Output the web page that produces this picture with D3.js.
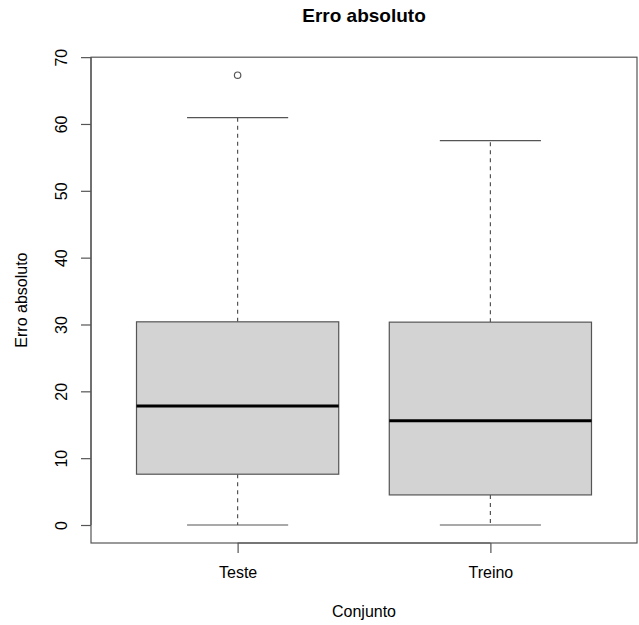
<!DOCTYPE html>
<html><head><meta charset="utf-8">
<script src="https://cdn.jsdelivr.net/npm/d3@7"></script>
<style>body{margin:0;background:#fff}svg{display:block}text{font-family:"Liberation Sans",Arial,sans-serif;fill:#000}</style>
</head><body>
<script>
const categories = ["Teste", "Treino"];
const lowerWhisker = [0, 0];
const q1 = [7.6, 4.5];
const median = [17.8, 15.6];
const q3 = [30.4, 30.35];
const upperWhisker = [60.95, 57.5];
const outliers = [[67.3], []];
const yTicks = [0, 10, 20, 30, 40, 50, 60, 70];
const title = "Erro absoluto";
const xTitle = "Conjunto";
const yTitle = "Erro absoluto";

const W = 639, H = 625;
const L = 91, R = 637, T = 57.2, B = 543;
const svg = d3.select("body").append("svg").attr("width", W).attr("height", H);

const x = d3.scaleLinear().domain([0.42, 2.58]).range([L, R]);
const y = d3.scaleLinear().domain([-2.692, 69.99]).range([B, T]);

// boxes
categories.forEach((c, i) => {
  const cx = x(i + 1);
  const g = svg.append("g");
  const dash = "4,4";
  // whiskers
  g.append("line").attr("x1", cx).attr("x2", cx).attr("y1", y(q3[i])).attr("y2", y(upperWhisker[i]))
    .attr("stroke", "#555").attr("stroke-width", 1.2).attr("stroke-dasharray", dash);
  g.append("line").attr("x1", cx).attr("x2", cx).attr("y1", y(q1[i])).attr("y2", y(lowerWhisker[i]))
    .attr("stroke", "#555").attr("stroke-width", 1.2).attr("stroke-dasharray", dash);
  // caps
  [upperWhisker[i], lowerWhisker[i]].forEach(v => {
    g.append("line").attr("x1", x(i + 1 - 0.2)).attr("x2", x(i + 1 + 0.2))
      .attr("y1", y(v)).attr("y2", y(v)).attr("stroke", "#555").attr("stroke-width", 1.2);
  });
  // box
  g.append("rect").attr("x", x(i + 1 - 0.4)).attr("width", x(i + 1 + 0.4) - x(i + 1 - 0.4))
    .attr("y", y(q3[i])).attr("height", y(q1[i]) - y(q3[i]))
    .attr("fill", "#d3d3d3").attr("stroke", "#555").attr("stroke-width", 1.2);
  // median
  g.append("line").attr("x1", x(i + 1 - 0.4)).attr("x2", x(i + 1 + 0.4))
    .attr("y1", y(median[i])).attr("y2", y(median[i])).attr("stroke", "#000").attr("stroke-width", 3);
  // outliers
  outliers[i].forEach(v => {
    g.append("circle").attr("cx", cx).attr("cy", y(v)).attr("r", 3.2)
      .attr("fill", "none").attr("stroke", "#555").attr("stroke-width", 1.2);
  });
});

// frame
svg.append("rect").attr("x", L).attr("y", T).attr("width", R - L).attr("height", B - T)
  .attr("fill", "none").attr("stroke", "#555").attr("stroke-width", 1.2);

// y axis
const yAxis = d3.axisLeft(y).tickValues(yTicks).tickSize(10).tickPadding(0).tickFormat(d3.format("d"));
const ya = svg.append("g").attr("transform", `translate(${L},0)`).call(yAxis);
ya.select(".domain").attr("d", `M0,${y(0)}V${y(70)}`).attr("stroke", "#555").attr("stroke-width", 1.2);
ya.selectAll(".tick line").attr("stroke", "#555").attr("stroke-width", 1.2);
ya.selectAll(".tick text").attr("x", null).attr("dy", null)
  .attr("transform", "translate(-24,0) rotate(-90)").attr("text-anchor", "middle")
  .style("font-size", "16px").style("font-family", "Liberation Sans, Arial, sans-serif").attr("fill", "#000");

// x axis
const xAxis = d3.axisBottom(x).tickValues([1, 2]).tickSize(10).tickPadding(0).tickFormat((d) => categories[d - 1]);
const xa = svg.append("g").attr("transform", `translate(0,${B})`).call(xAxis);
xa.select(".domain").attr("d", `M${x(1)},0H${x(2)}`).attr("stroke", "#555").attr("stroke-width", 1.2);
xa.selectAll(".tick line").attr("stroke", "#555").attr("stroke-width", 1.2);
xa.selectAll(".tick text").attr("y", 35).attr("dy", null)
  .style("font-size", "16px").style("font-family", "Liberation Sans, Arial, sans-serif").attr("fill", "#000");

// titles
svg.append("text").attr("x", (L + R) / 2).attr("y", 22).attr("text-anchor", "middle")
  .style("font-size", "19px").style("font-weight", "bold").text(title);
svg.append("text").attr("x", (L + R) / 2).attr("y", 617).attr("text-anchor", "middle")
  .style("font-size", "16px").text(xTitle);
svg.append("text").attr("transform", `translate(27,${(T + B) / 2}) rotate(-90)`).attr("text-anchor", "middle")
  .style("font-size", "16px").text(yTitle);
</script>
</body></html>
